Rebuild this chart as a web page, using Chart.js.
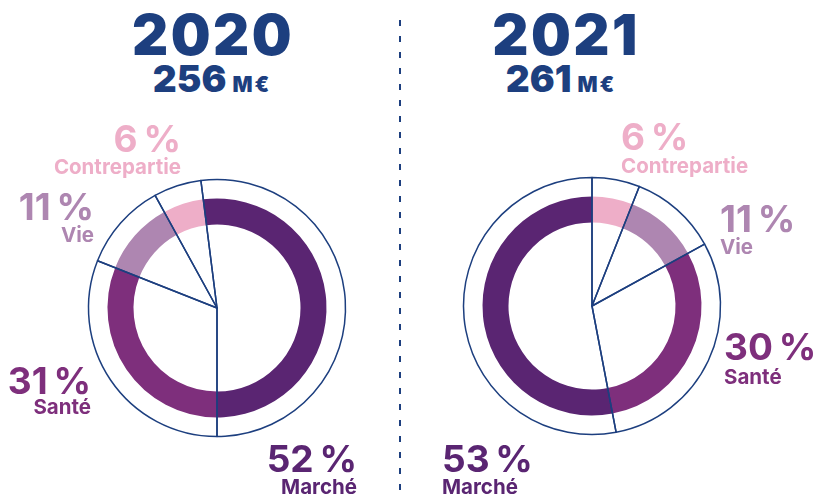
<!DOCTYPE html>
<html>
<head>
<meta charset="utf-8">
<script src="https://cdn.jsdelivr.net/npm/chart.js@4/dist/chart.umd.min.js"></script>
<style>
  html, body { margin: 0; padding: 0; background: #ffffff; }
  #stage { position: relative; width: 818px; height: 498px; overflow: hidden; background: #fff; }
  .box { position: absolute; width: 300px; height: 300px; }
  .box canvas { position: absolute; left: 0; top: 0; }
  .t { position: absolute; white-space: nowrap; line-height: 1; font-family: Inter, "Noto Sans", sans-serif; }
  .year { font-weight: 900; font-size: 56px; color: #1d3f7f; transform: translateX(-50%); letter-spacing: 2.5px; }
  .total { font-weight: 900; font-size: 37px; color: #1d3f7f; transform: translateX(-50%); }
  .total .unit { font-size: 21px; margin-left: 6px; letter-spacing: 2px; }
  .pct { font-weight: 700; font-size: 37px; }
  .name { font-weight: 700; font-size: 20.5px; }
  #divider { position: absolute; left: 399px; top: 20px; width: 2px; height: 480px;
    background: repeating-linear-gradient(to bottom, #1d3f7f 0, #1d3f7f 6px, transparent 6px, transparent 16px); }
</style>
</head>
<body>
<div id="stage">
  <div id="divider"></div>
</div>
<script>
// ---- data ----
const years = ['2020', '2021'];
const totals = [256, 261];
const unit = 'M€';
const categories2020 = ['Marché', 'Santé', 'Vie', 'Contrepartie'];
const values2020 = [52, 31, 11, 6];
const categories2021 = ['Contrepartie', 'Vie', 'Santé', 'Marché'];
const values2021 = [6, 11, 30, 53];

// ---- styles ----
const navy = '#1d3f7f';
const colorOf = {
  'Marché': '#5a2572',
  'Santé': '#7e2f7c',
  'Vie': '#ae86b1',
  'Contrepartie': '#eeaec8'
};
const RING_OUTER = 109.5, RING_INNER = 83.5, CIRCLE_R = 128.5;

const stage = document.getElementById('stage');

function addText(cls, html, css) {
  const d = document.createElement('div');
  d.className = 't ' + cls;
  d.innerHTML = html;
  Object.assign(d.style, css);
  stage.appendChild(d);
  return d;
}

function makeCanvas(cx, cy) {
  const box = document.createElement('div');
  box.className = 'box';
  box.style.left = (cx - 150) + 'px';
  box.style.top = (cy - 150) + 'px';
  const c = document.createElement('canvas');
  c.width = 300; c.height = 300;
  c.style.width = '300px'; c.style.height = '300px';
  box.appendChild(c);
  stage.appendChild(box);
  return c;
}

const baseOpts = {
  responsive: false,
  animation: false,
  events: [],
  layout: { padding: 0 },
  plugins: { legend: { display: false }, tooltip: { enabled: false } }
};

function drawYear(cats, vals, cx, cy, rotation) {
  // coloured ring
  new Chart(makeCanvas(cx, cy), {
    type: 'doughnut',
    data: {
      labels: cats,
      datasets: [{
        data: vals,
        backgroundColor: cats.map(c => colorOf[c]),
        borderWidth: 0
      }]
    },
    options: Object.assign({}, baseOpts, {
      radius: RING_OUTER,
      cutout: (RING_INNER / RING_OUTER * 100).toFixed(2) + '%',
      rotation: rotation
    })
  });
  // thin outer circle with spokes at the share boundaries
  new Chart(makeCanvas(cx, cy), {
    type: 'pie',
    data: {
      labels: cats,
      datasets: [{
        data: vals,
        backgroundColor: 'rgba(0,0,0,0)',
        borderColor: navy,
        borderWidth: 1.5,
        borderJoinStyle: 'round'
      }]
    },
    options: Object.assign({}, baseOpts, { radius: CIRCLE_R, rotation: rotation })
  });
}

const sum = a => a.reduce((s, v) => s + v, 0);
// 2020: Marché ends exactly at the bottom
const rot2020 = 180 - values2020[0] / sum(values2020) * 360;
drawYear(categories2020, values2020, 217, 308, rot2020);
drawYear(categories2021, values2021, 592, 306, 0);

// ---- titles ----
addText('year', years[0], { left: '213px', top: '7px' });
addText('total', totals[0] + '<span class="unit">' + unit + '</span>', { left: '212px', top: '60px' });
addText('year', years[1], { left: '566px', top: '7px' });
addText('total', totals[1] + '<span class="unit">' + unit + '</span>', { left: '561px', top: '60px' });

// ---- labels ----
const NNBSP = '\u202F';
function label(cats, vals, name, pos) {
  const i = cats.indexOf(name);
  const col = colorOf[name];
  const pctCss = Object.assign({ color: col, top: pos.pt + 'px' }, pos.side);
  const nameCss = Object.assign({ color: col, top: pos.nt + 'px' }, pos.side);
  addText('pct', vals[i] + NNBSP + '%', pctCss);
  addText('name', name, nameCss);
}
// 2020 (right-aligned labels)
label(categories2020, values2020, 'Contrepartie', { pt: 120, nt: 157, side: { right: '637px', textAlign: 'right' } });
label(categories2020, values2020, 'Vie', { pt: 188, nt: 225, side: { right: '724px', textAlign: 'right' } });
label(categories2020, values2020, 'Santé', { pt: 362, nt: 397, side: { right: '727px', textAlign: 'right' } });
label(categories2020, values2020, 'Marché', { pt: 440, nt: 477, side: { right: '461px', textAlign: 'right' } });
// 2021 (left-aligned labels)
label(categories2021, values2021, 'Contrepartie', { pt: 118, nt: 156, side: { left: '621px' } });
label(categories2021, values2021, 'Vie', { pt: 200, nt: 237, side: { left: '720px' } });
label(categories2021, values2021, 'Santé', { pt: 328, nt: 367, side: { left: '724px' } });
label(categories2021, values2021, 'Marché', { pt: 440, nt: 477, side: { left: '442px' } });
</script>
</body>
</html>
